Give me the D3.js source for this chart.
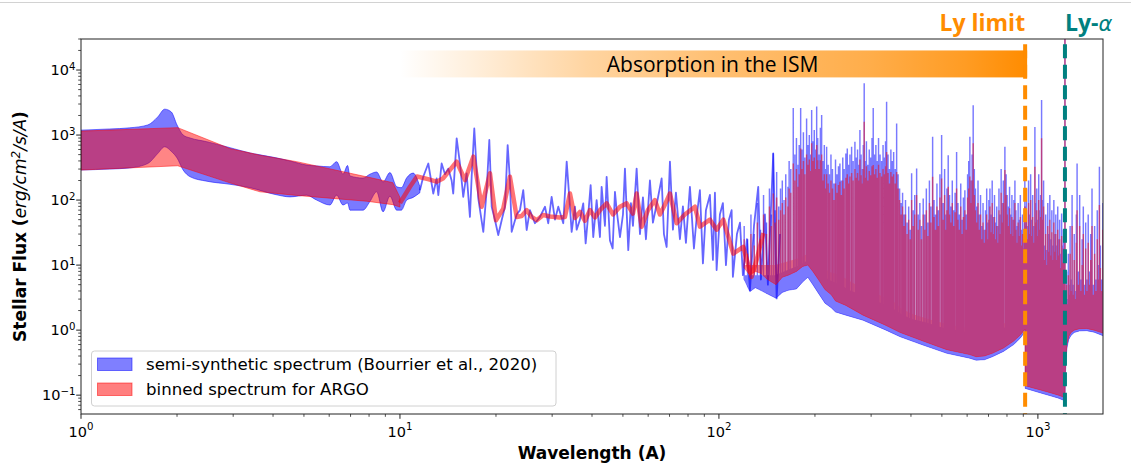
<!DOCTYPE html>
<html>
<head>
<meta charset="utf-8">
<script src="https://cdn.jsdelivr.net/npm/d3@7"></script>
<style>
  body { margin: 0; background: #fff; }
  svg { display: block; }
</style>
</head>
<body>
<script>
// ---------- spectrum data (wavelength in Å, flux in erg/cm²/s/Å) ----------

// X-ray part: smooth band (lower / upper envelope)
const bandWave     = [1.00, 1.23, 1.42, 1.62, 1.74, 1.83, 1.92, 2.00, 2.09, 2.20, 2.48, 2.93, 3.39, 4.06, 4.52, 5.10, 5.48, 6.03, 6.33, 6.63, 6.85, 6.97, 7.66, 8.05, 8.45, 8.85, 9.30, 9.77, 10.1, 10.5, 11.0, 11.55];
const blueBandLow  = [290, 300, 312, 365, 520, 660, 560, 445, 290, 228, 195, 175, 155, 122, 112, 119, 100, 84, 119, 84, 90, 70, 70, 95, 134, 66, 115, 70, 70, 100, 110, 130];
const blueBandHigh = [1190, 1240, 1290, 1430, 1900, 2500, 2260, 1430, 1000, 900, 790, 640, 530, 450, 400, 345, 335, 325, 390, 250, 340, 235, 218, 250, 270, 190, 265, 160, 155, 220, 260, 160];

const redBandWave  = [1.00, 2.01, 2.93, 3.64, 4.74, 7.86, 9.5, 10.0];
const redBandLow   = [290, 337, 184, 134, 118, 96, 85, 78];
const redBandHigh  = [1150, 1300, 620, 490, 390, 228, 185, 110];

// soft X-ray / EUV part: semi-synthetic spectrum as a single trace
const blueLineWave = [11.55, 11.83, 12.27, 12.72, 13.03, 13.19, 13.51, 13.84, 14.17, 14.52, 14.69, 15.06, 15.42, 15.79, 16.18, 16.57, 16.78, 17.10, 17.60, 18.25, 18.70, 19.06, 19.39, 19.86, 20.33, 20.84, 21.34, 21.76, 22.12, 22.40, 23.22, 23.78, 24.35, 24.96, 25.55, 26.49, 27.47, 28.49, 29.17, 29.89, 30.62, 31.36, 32.51, 33.32, 33.95, 34.54, 35.37, 35.81, 36.67, 37.55, 38.21, 38.93, 39.61, 40.36, 41.36, 42.36, 42.88, 43.92, 44.46, 45.53, 46.43, 47.21, 47.79, 48.95, 50.02, 50.74, 51.97, 52.98, 53.76, 55.21, 56.55, 57.78, 59.04, 60.77, 62.10, 63.92, 66.13, 67.23, 68.56, 70.21, 71.75, 73.32, 75.46, 77.11, 78.80, 81.11, 83.49, 85.31, 87.18, 89.09, 91.04, 93.70, 95.76, 97.16, 98.35, 100.7, 102.9, 105.2, 107.5, 109.6, 110.6, 113.9, 116.4, 118.9, 122.4, 125.1, 128.8, 132.8, 135.4, 139.4, 142.4, 148.0, 151.7, 155.4];
const blueLineFlux = [142, 228, 365, 126, 215, 119, 365, 250, 305, 200, 126, 890, 365, 112, 258, 55, 228, 1260, 106, 32.5, 142, 840, 79, 49, 29, 49, 79, 700, 200, 32.5, 60, 70, 142, 34.6, 70, 44, 55, 79, 44, 112, 50, 79, 44, 390, 110, 32.5, 79, 35, 50, 89, 21.6, 60, 170, 27, 100, 27, 160, 40, 228, 24, 18, 134, 70, 27, 60, 305, 17, 90, 40, 305, 30, 110, 25, 200, 45, 90, 215, 30, 19, 390, 35, 130, 25, 80, 22, 160, 18, 60, 142, 10.6, 70, 120, 12, 130, 8.4, 60, 90, 10, 50, 70, 6.6, 30, 45, 7, 25, 4.1, 40, 160, 6, 60, 5, 520, 3.07, 30];

// binned spectrum for the same range
const redLineWave  = [10.0, 10.75, 11.31, 12.24, 13.03, 13.64, 15.06, 15.99, 16.98, 18.04, 19.15, 20.0, 21.08, 22.12, 23.22, 24.07, 24.96, 25.87, 26.83, 28.13, 29.52, 31.73, 32.90, 34.11, 35.37, 36.67, 38.02, 39.41, 40.87, 42.36, 44.46, 46.53, 48.95, 51.37, 53.76, 55.21, 57.25, 59.9, 63.0, 65.3, 67.7, 70.2, 73.7, 78.2, 84.1, 87.2, 93.7, 98.4, 103.2, 110.9, 119.2, 126.6, 131.3, 137.7];
const redLineFlux  = [90, 160, 230, 210, 192, 215, 390, 203, 465, 79, 258, 49, 74, 228, 55, 57, 70, 55, 49, 59, 56, 54, 55, 126, 53, 66, 48, 70, 54, 70, 89, 60, 79, 89, 62, 126, 39, 70, 100, 60, 85, 126, 44, 60, 79, 39, 50, 35, 50, 15, 19, 6.6, 12, 31];

// EUV / FUV forest: continuum floor, dense body top, and individual lines
const floorWave = [120, 125, 130, 135, 142, 151, 158, 165, 175, 183, 190, 197, 205, 215, 225, 232, 250, 283, 334, 370, 436, 518, 611, 640, 680, 720, 780, 840, 880, 911, 912, 960, 1020, 1100, 1160, 1214, 1216.5, 1220, 1226, 1235, 1250, 1270, 1300, 1350, 1420, 1500, 1600];
const blueFloor = [6.0, 3.9, 4.5, 4.1, 3.6, 3.1, 3.8, 4.1, 4.3, 5.5, 6.5, 5.0, 3.7, 2.6, 2.2, 1.9, 1.7, 1.42, 1.0, 0.79, 0.59, 0.44, 0.37, 0.345, 0.35, 0.39, 0.47, 0.6, 0.75, 0.94, 0.127, 0.118, 0.108, 0.097, 0.09, 0.082, 0.09, 0.2, 0.38, 0.55, 0.72, 0.83, 0.92, 0.97, 0.98, 0.93, 0.82];
const redFloor  = [9, 7, 8, 7.5, 6, 5, 6.5, 7, 8, 9.5, 10, 8, 6, 4.2, 3.5, 2.8, 2.4, 1.7, 1.18, 0.92, 0.68, 0.5, 0.42, 0.39, 0.4, 0.44, 0.53, 0.68, 0.84, 1.03, 0.14, 0.13, 0.12, 0.108, 0.1, 0.092, 0.1, 0.23, 0.43, 0.62, 0.8, 0.92, 1.0, 1.05, 1.06, 1.0, 0.9];

const massWave = [120, 130, 140, 150, 160, 170, 180, 190, 200, 210, 220, 240, 260, 280, 300, 330, 360, 370, 400, 450, 500, 560, 620, 680, 750, 820, 880, 911, 912, 960, 1030, 1100, 1160, 1214, 1216.5, 1222, 1230, 1240, 1270, 1300, 1400, 1500, 1600];
const blueMass = [7, 7, 7, 7, 8, 9, 10, 12, 10, 8, 6, 5, 4, 3.5, 3, 2.5, 2, 1.8, 1.5, 1.3, 1.1, 1.0, 0.9, 0.9, 1.0, 1.2, 1.5, 1.8, 0.3, 0.28, 0.25, 0.22, 0.2, 0.18, 0.12, 0.4, 0.75, 1.0, 1.4, 1.6, 1.8, 1.7, 1.6];
const redMass  = [10, 10, 10, 10, 11, 12, 13, 15, 13, 11, 8, 7, 5.5, 4.5, 4, 3.2, 2.6, 2.2, 1.8, 1.5, 1.3, 1.15, 1.05, 1.05, 1.15, 1.4, 1.7, 2.0, 0.35, 0.32, 0.29, 0.26, 0.23, 0.2, 0.11, 0.35, 0.7, 0.95, 1.3, 1.45, 1.6, 1.5, 1.4];

const lineWave = [120, 123, 126, 129, 132, 135, 138, 141, 144, 146, 148, 150, 151.7, 154, 156, 158, 160, 162, 164.6, 166, 168, 171, 173, 175, 177, 178.5, 180.4, 182, 184, 186, 188.3, 190, 192, 193.5, 195.3, 197, 199, 200.5, 202.5, 204, 206, 208, 209.9, 212, 214, 215.8, 217.6, 220, 222, 224.5, 227, 229.5, 232, 234.5, 237, 239.5, 242, 244.5, 247, 250, 252.6, 255, 257.5, 260.6, 263.5, 266.9, 269.5, 272, 274.5, 276.7, 279, 281.5, 283.5, 285.4, 287.5, 290, 293, 296, 299, 302, 304.6, 307.5, 310.5, 313.5, 316.5, 320, 323.6, 327, 330.5, 333, 335.5, 339, 342.5, 346, 349.5, 353, 357, 360.7, 364.5, 368.5, 372.5, 376.5, 380.5, 384.5, 389, 393.5, 398, 401.9, 406.5, 411, 416.7, 421.5, 426.5, 431.5, 437, 442, 447, 452, 457, 462, 467.7, 472.5, 477.5, 482.5, 487.5, 493, 499.1, 504.5, 510, 515, 518.5, 523.4, 528.5, 533.5, 539, 544.5, 550, 556.1, 561.5, 567, 573, 578.5, 584, 590.3, 596, 602, 607, 612, 618, 622, 626.8, 632, 637, 643, 649, 655, 661, 667, 673, 679, 685, 691, 697, 702, 707.3, 713, 719, 725, 731, 737, 743, 749, 755, 761, 767, 773, 779, 788, 795, 801, 808, 815, 822, 829, 835, 841, 847.2, 853, 860, 867, 874, 881, 888, 895, 901, 907, 910, 915, 921, 928, 935, 942, 949, 956, 963, 970, 978.6, 985, 992, 999, 1006, 1013, 1020, 1027, 1035, 1042, 1050, 1058, 1066, 1074, 1082, 1090, 1098, 1106, 1114, 1122, 1130, 1138, 1146, 1154, 1162, 1170, 1178, 1187, 1195, 1203, 1210, 1215.7, 1222, 1230, 1238, 1246, 1254, 1262, 1270, 1280, 1290, 1300, 1310, 1320, 1327, 1340, 1352, 1364, 1376, 1388, 1400, 1412, 1425, 1438, 1451, 1464, 1478, 1492, 1506, 1520, 1535, 1550, 1559, 1570, 1585, 1598];
const blueLinePeak = [40, 25, 60, 30, 90, 35, 120, 45, 150, 60, 525, 70, 270, 80, 150, 200, 100, 250, 160, 400, 300, 2600, 500, 900, 350, 700, 2600, 600, 1100, 450, 1800, 700, 1000, 500, 2420, 800, 1200, 600, 2740, 900, 500, 1300, 2030, 400, 700, 300, 660, 350, 250, 500, 300, 180, 420, 250, 330, 365, 200, 450, 300, 520, 620, 350, 500, 660, 400, 790, 450, 600, 350, 1200, 500, 300, 700, 6250, 400, 800, 350, 600, 450, 900, 2600, 500, 700, 400, 900, 500, 400, 700, 450, 800, 3240, 500, 300, 600, 400, 550, 300, 1500, 250, 150, 90, 130, 60, 100, 45, 80, 35, 258, 70, 120, 305, 60, 90, 40, 106, 60, 150, 45, 200, 80, 940, 100, 60, 180, 70, 250, 1000, 90, 300, 60, 150, 490, 120, 80, 200, 70, 130, 550, 90, 60, 180, 50, 110, 142, 60, 250, 400, 940, 200, 500, 2870, 300, 150, 80, 200, 60, 120, 40, 90, 35, 70, 150, 45, 100, 150, 60, 200, 55, 120, 45, 80, 40, 150, 60, 300, 90, 200, 660, 250, 120, 80, 160, 60, 120, 50, 100, 200, 70, 40, 90, 50, 120, 35, 60, 30, 45, 200, 80, 150, 40, 200, 60, 250, 50, 120, 40, 1330, 90, 150, 50, 250, 70, 120, 3450, 100, 200, 20, 60, 17, 90, 30, 120, 25, 70, 20, 100, 30, 60, 20, 80, 25, 50, 15, 62, 20, 35, 12, 40000, 4, 8, 3, 15, 5, 40, 6, 120, 5, 30, 4, 60, 365, 8, 120, 6, 25, 80, 5, 45, 6, 60, 8, 30, 150, 5, 40, 6, 70, 10, 325, 20, 6, 90];
const redLinePeak  = [25, 15, 30, 20, 45, 25, 60, 30, 80, 40, 126, 45, 110, 50, 70, 90, 60, 110, 80, 150, 130, 365, 200, 300, 160, 250, 620, 300, 400, 250, 500, 350, 420, 280, 745, 400, 450, 300, 700, 410, 300, 410, 500, 200, 250, 150, 250, 180, 130, 200, 150, 100, 180, 130, 170, 192, 120, 200, 150, 220, 250, 180, 230, 260, 200, 300, 220, 260, 200, 420, 240, 180, 300, 1600, 220, 330, 200, 280, 240, 330, 345, 250, 300, 220, 350, 260, 230, 300, 250, 330, 550, 260, 180, 270, 230, 250, 180, 270, 150, 100, 60, 80, 40, 60, 30, 50, 25, 100, 40, 60, 120, 35, 50, 25, 60, 35, 70, 28, 90, 45, 228, 55, 35, 80, 40, 110, 215, 50, 120, 35, 70, 160, 60, 45, 90, 40, 65, 150, 50, 35, 80, 30, 55, 70, 35, 110, 150, 230, 90, 200, 745, 120, 70, 45, 90, 35, 60, 25, 45, 22, 35, 60, 25, 50, 80, 32, 90, 30, 55, 25, 40, 22, 70, 30, 130, 45, 90, 290, 120, 60, 40, 75, 30, 55, 28, 50, 90, 35, 22, 45, 28, 55, 20, 30, 18, 25, 80, 40, 70, 25, 90, 30, 100, 28, 55, 22, 325, 45, 70, 28, 100, 35, 55, 890, 50, 80, 12, 30, 10, 40, 16, 50, 14, 32, 12, 45, 16, 30, 12, 35, 14, 25, 9, 28, 11, 18, 8, 40000, 3, 5, 2.5, 7, 3.5, 15, 4, 40, 3.5, 12, 3, 22, 70, 5, 40, 4, 10, 30, 3.5, 18, 4, 22, 5, 12, 40, 3.5, 15, 4, 25, 6, 84, 9, 4, 35];

// reference wavelengths (Å)
const lyLimit = 912;
const lyAlpha = 1215.67;

// axis ticks
const xTickValues = [1, 10, 100, 1000];
const xTickExps   = ["0", "1", "2", "3"];
const yTickValues = [0.1, 1, 10, 100, 1000, 10000];
const yTickExps   = ["\u22121", "0", "1", "2", "3", "4"];

// legend entries
const legendLabels = ["semi-synthetic spectrum (Bourrier et al., 2020)", "binned spectrum for ARGO"];
const legendColors = ["#0000ff", "#ff0000"];

// ---------- layout ----------
const W = 1131, H = 473;
const plot = { left: 81, right: 1103, top: 39, bottom: 414 };

const x = d3.scaleLog().domain([1, 1600]).range([plot.left, plot.right]);
const y = d3.scaleLog().domain([0.0513, 30000]).range([plot.bottom, plot.top]);

const svg = d3.select("body").append("svg")
  .attr("width", W).attr("height", H)
  .attr("font-family", "DejaVu Sans, sans-serif");

svg.append("line")
  .attr("x1", 0).attr("x2", W).attr("y1", 2.5).attr("y2", 2.5)
  .attr("stroke", "#d2d2d2").attr("stroke-width", 1);

const defs = svg.append("defs");
defs.append("clipPath").attr("id", "plotClip").append("rect")
  .attr("x", plot.left).attr("y", plot.top)
  .attr("width", plot.right - plot.left).attr("height", plot.bottom - plot.top);

// region above a continuum floor: individual lines are drawn only there
function floorClip(id, floorVals) {
  const pts = floorWave.map((w, i) => [x(w), y(floorVals[i])]);
  const last = pts[pts.length - 1];
  const poly = [[pts[0][0] - 2, plot.top - 20], [pts[0][0] - 2, pts[0][1]], ...pts, [last[0] + 5, last[1]], [last[0] + 5, plot.top - 20]];
  defs.append("clipPath").attr("id", id).append("path").attr("d", d3.line()(poly) + "Z");
}
floorClip("blueFloorClip", blueFloor);
floorClip("redFloorClip", redFloor);

const data = svg.append("g").attr("clip-path", "url(#plotClip)");

const bandArea = d3.area()
  .x(d => x(d[0])).y0(d => y(d[1])).y1(d => y(d[2]));
const traceLine = d3.line().x(d => x(d[0])).y(d => y(d[1]));

function massPath(massVals, floorVals) {
  const topPts = massWave.map((w, i) => [x(w), y(massVals[i])]);
  const botPts = floorWave.map((w, i) => [x(w), y(floorVals[i])]).reverse();
  return d3.line()([...topPts, ...botPts]) + "Z";
}
function linesPath(peaks) {
  return lineWave.map((w, i) => `M${x(w)},${y(peaks[i])}V${plot.bottom + 5}`).join("");
}

function drawSeries(color, bWave, bLow, bHigh, bCurve, lWave, lFlux, lWidth, lOpacity, floorVals, massVals, peaks, clipId, opacity) {
  // band
  data.append("path")
    .datum(d3.zip(bWave, bLow, bHigh))
    .attr("d", bandArea.curve(bCurve))
    .attr("fill", color).attr("fill-opacity", opacity)
    .attr("stroke", color).attr("stroke-opacity", opacity).attr("stroke-width", 1);
  // trace
  data.append("path")
    .datum(d3.zip(lWave, lFlux))
    .attr("d", traceLine)
    .attr("fill", "none").attr("stroke", color)
    .attr("stroke-width", lWidth).attr("stroke-opacity", lOpacity)
    .attr("stroke-linejoin", "round");
  // dense forest
  const g = data.append("g").attr("opacity", opacity);
  g.append("path").attr("d", massPath(massVals, floorVals)).attr("fill", color);
  g.append("g").attr("clip-path", `url(#${clipId})`)
    .append("path").attr("d", linesPath(peaks))
    .attr("fill", "none").attr("stroke", color).attr("stroke-width", 1.45);
  // floor edge
  data.append("path")
    .datum(d3.zip(floorWave, floorVals))
    .attr("d", traceLine)
    .attr("fill", "none").attr("stroke", color)
    .attr("stroke-opacity", 0.3).attr("stroke-width", 1);
}

drawSeries("#0000ff", bandWave, blueBandLow, blueBandHigh, d3.curveMonotoneX,
  blueLineWave, blueLineFlux, 1.8, 0.6, blueFloor, blueMass, blueLinePeak, "blueFloorClip", 0.52);
drawSeries("#ff0000", redBandWave, redBandLow, redBandHigh, d3.curveLinear,
  redLineWave, redLineFlux, 4.5, 0.55, redFloor, redMass, redLinePeak, "redFloorClip", 0.48);

// ---------- ISM absorption bar ----------
const grad = defs.append("linearGradient").attr("id", "ismGrad")
  .attr("x1", "0").attr("x2", "1").attr("y1", "0").attr("y2", "0");
[[0, 0], [0.15, 0.18], [0.3, 0.37], [0.5, 0.55], [0.75, 0.71], [0.9, 0.86], [1, 1]].forEach(([o, a]) =>
  grad.append("stop").attr("offset", o).attr("stop-color", "#ff8c00").attr("stop-opacity", a));

const ismLeft = 10, ismTop = 2.0e4, ismBottom = 7.7e3;
svg.append("rect")
  .attr("x", x(ismLeft)).attr("y", y(ismTop))
  .attr("width", x(lyLimit) + 2 - x(ismLeft)).attr("height", y(ismBottom) - y(ismTop))
  .attr("fill", "url(#ismGrad)");
svg.append("text")
  .attr("x", (x(ismLeft) + x(lyLimit)) / 2).attr("y", 71.5)
  .attr("text-anchor", "middle")
  .attr("font-family", "Open Sans, sans-serif").attr("font-size", 21)
  .attr("fill", "#000").text("Absorption in the ISM");

// ---------- reference lines ----------
const lineTop = 2.5e4;
svg.append("line")
  .attr("x1", x(lyLimit)).attr("x2", x(lyLimit))
  .attr("y1", y(lineTop)).attr("y2", plot.bottom)
  .attr("stroke", "#ff8c00").attr("stroke-width", 4).attr("stroke-dasharray", "14,6.5");
svg.append("line")
  .attr("x1", x(lyAlpha)).attr("x2", x(lyAlpha))
  .attr("y1", y(lineTop)).attr("y2", plot.bottom)
  .attr("stroke", "#008080").attr("stroke-width", 4).attr("stroke-dasharray", "14,6.5");

svg.append("text")
  .attr("x", x(lyLimit)).attr("y", 30.5).attr("text-anchor", "end")
  .attr("font-family", "Open Sans, sans-serif").attr("font-weight", "bold").attr("font-size", 23)
  .attr("fill", "#ff8c00").text("Ly limit");
const la = svg.append("text")
  .attr("x", x(lyAlpha)).attr("y", 30.5).attr("fill", "#008080");
la.append("tspan").attr("font-family", "Open Sans, sans-serif").attr("font-weight", "bold").attr("font-size", 23).text("Ly-");
la.append("tspan").attr("font-family", "DejaVu Sans, sans-serif").attr("font-style", "italic").attr("font-size", 21).text("\u03b1");

// ---------- axes ----------
const axisColor = "#222";
const minorX = x.ticks().filter(v => !xTickValues.includes(v));
const minorY = y.ticks().filter(v => !yTickValues.some(t => Math.abs(t - v) / t < 1e-6));

const gx = svg.append("g");
minorX.forEach(v => gx.append("line").attr("x1", x(v)).attr("x2", x(v))
  .attr("y1", plot.bottom).attr("y2", plot.bottom + 2.8).attr("stroke", axisColor).attr("stroke-width", 0.8));
xTickValues.forEach((v, i) => {
  gx.append("line").attr("x1", x(v)).attr("x2", x(v))
    .attr("y1", plot.bottom).attr("y2", plot.bottom + 4.8).attr("stroke", axisColor).attr("stroke-width", 1);
  const t = gx.append("text").attr("x", x(v)).attr("y", 436.5)
    .attr("text-anchor", "middle").attr("font-size", 14.5).attr("fill", "#000");
  t.append("tspan").text("10");
  t.append("tspan").attr("dy", -6.5).attr("font-size", 10.2).text(xTickExps[i]);
});

const gy = svg.append("g");
minorY.forEach(v => gy.append("line").attr("x1", plot.left - 2.8).attr("x2", plot.left)
  .attr("y1", y(v)).attr("y2", y(v)).attr("stroke", axisColor).attr("stroke-width", 0.8));
yTickValues.forEach((v, i) => {
  gy.append("line").attr("x1", plot.left - 4.8).attr("x2", plot.left)
    .attr("y1", y(v)).attr("y2", y(v)).attr("stroke", axisColor).attr("stroke-width", 1);
  const t = gy.append("text").attr("x", 75.5).attr("y", y(v) + 5)
    .attr("text-anchor", "end").attr("font-size", 14.5).attr("fill", "#000");
  t.append("tspan").text("10");
  t.append("tspan").attr("dy", -5.5).attr("font-size", 10.2).text(yTickExps[i]);
});

svg.append("rect")
  .attr("x", plot.left).attr("y", plot.top)
  .attr("width", plot.right - plot.left).attr("height", plot.bottom - plot.top)
  .attr("fill", "none").attr("stroke", axisColor).attr("stroke-width", 1);

// axis titles
svg.append("text")
  .attr("x", (plot.left + plot.right) / 2).attr("y", 458.5)
  .attr("text-anchor", "middle").attr("font-size", 17).attr("font-weight", "bold")
  .text("Wavelength (A)");

const yt = svg.append("text")
  .attr("transform", `translate(26,${(plot.top + plot.bottom) / 2}) rotate(-90)`)
  .attr("text-anchor", "middle").attr("font-size", 17);
yt.append("tspan").attr("font-weight", "bold").text("Stellar Flux (");
yt.append("tspan").attr("font-style", "italic").text("erg/cm");
yt.append("tspan").attr("font-style", "italic").attr("font-size", 12).attr("dy", -6).text("2");
yt.append("tspan").attr("font-style", "italic").attr("dy", 6).text("/s/A");
yt.append("tspan").attr("font-weight", "bold").text(")");

// ---------- legend ----------
const lg = svg.append("g");
lg.append("rect")
  .attr("x", 91.5).attr("y", 351).attr("width", 464.5).attr("height", 55)
  .attr("rx", 3).attr("fill", "#fff").attr("fill-opacity", 0.8)
  .attr("stroke", "#d0d0d0").attr("stroke-width", 1);
legendLabels.forEach((label, i) => {
  const yy = 358 + i * 25;
  lg.append("rect")
    .attr("x", 97.5).attr("y", yy).attr("width", 34.5).attr("height", 12.5)
    .attr("fill", legendColors[i]).attr("fill-opacity", 0.5)
    .attr("stroke", legendColors[i]).attr("stroke-opacity", 0.5).attr("stroke-width", 1);
  lg.append("text")
    .attr("x", 146).attr("y", yy + 12.3)
    .attr("font-size", 16.6).attr("fill", "#000").text(label);
});
</script>
</body>
</html>
